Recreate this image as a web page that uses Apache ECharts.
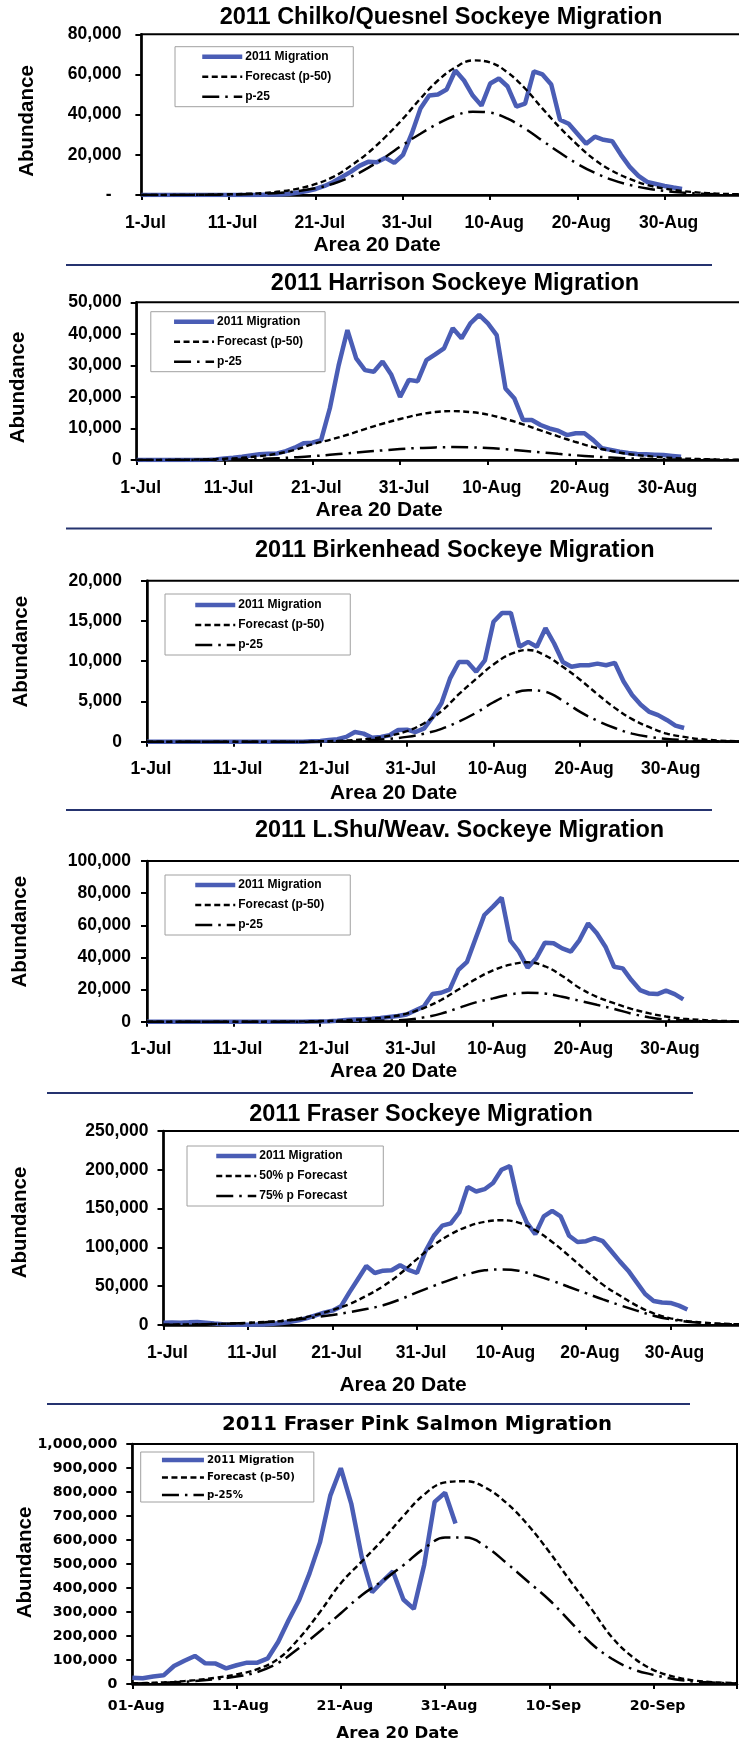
<!DOCTYPE html>
<html><head><meta charset="utf-8">
<script src="https://cdn.jsdelivr.net/npm/echarts/dist/echarts.min.js"></script>
<style>html,body{margin:0;padding:0;background:#fff}#c{width:739px;height:1744px}</style>
</head><body><div id="c"></div>
<script>
// ---------------- DATA (values in thousands) ----------------
const julTickLabels = ['1-Jul','11-Jul','21-Jul','31-Jul','10-Aug','20-Aug','30-Aug'];
const pinkTickLabels = ['01-Aug','11-Aug','21-Aug','31-Aug','10-Sep','20-Sep'];

// day offsets from 1-Jul (sockeye) / 01-Aug (pink)
const julMigrationDays = [0,1,2,3,4,5,6,7,8,9,10,11,12,13,14,15,16,17,18,19,20,21,22,23,24,25,26,27,28,29,30,31,32,33,34,35,36,37,38,39,40,41,42,43,44,45,46,47,48,49,50,51,52,53,54,55,56,57,58,59,60,61,62];
const julForecastDays = [0,2,4,6,8,10,12,14,16,18,20,22,24,26,28,30,32,34,36,38,40,42,44,46,48,50,52,54,56,58,60,62,64,66,68,70];
const pinkMigrationDays = [0,1,2,3,4,5,6,7,8,9,10,11,12,13,14,15,16,17,18,19,20,21,22,23,24,25,26,27,28,29,30,31];
const pinkForecastDays = [0,2,4,6,8,10,12,14,16,18,20,22,24,26,28,30,32,34,36,38,40,42,44,46,48,50,52,54,56,58];

const chilkoMigrationK = [0,0,0,0,0,0,0,0,0,0, 0,0,0,0,0.1,0.2,0.3,0.6,1.2,2, 3,4.5,6.5,9,11.5,14.5,16.5,16.3,18.5,16, 20,30.5,43,49.5,50,52.5,62,57,49.5,44.5, 55.5,58,54,44,45.5,61.5,60,55,37.5,35.5, 30.5,25.5,29,27.5,26.8,20,14,9.5,6.5,5.5, 4.5,3.7,3];
const chilkoP50K = [0,0,0.05,0.1,0.2,0.35,0.6,1.0,1.8,3.2, 5.5,9,14.5,21,29,38,48,57,63.5,67, 66,61,53,43,33.5,25,17.5,12,8,5, 3.2,2,1.2,0.7,0.4,0.2];
const chilkoP25K = [0,0,0.03,0.06,0.12,0.22,0.4,0.65,1.1,2, 3.4,5.6,9,13.5,19,25,30.5,35.5,39.5,41.5, 41,38,33,27,21,15.5,11,7.5,5,3.2, 2,1.2,0.7,0.4,0.25,0.15];

const harrisonMigrationK = [0,0,0,0,0,0,0,0,0,0.2, 0.5,0.7,1.0,1.4,1.8,2.0,2.1,2.8,3.9,5.3, 5.5,6.3,16.4,30,41.2,32.2,28.5,28,31.2,27, 20,25.4,25,31.7,33.5,35.4,41.8,38.6,43.3,46, 43.3,39.6,22.7,19.6,12.7,12.7,11.1,10,9.3,7.9, 8.5,8.5,6.3,3.7,3.2,2.6,2.2,1.9,1.8,1.7, 1.6,1.3,1.0];
const harrisonP50K = [0,0.02,0.05,0.1,0.2,0.4,0.7,1.2,2.0,3.2, 5.0,6.4,8.0,9.8,11.5,13.0,14.3,15.2,15.5,15.2, 14.4,13,11.3,9.4,7.5,5.7,4.1,2.9,1.9,1.3, 0.8,0.5,0.3,0.15,0.08,0.04];
const harrisonP25K = [0,0,0.01,0.03,0.06,0.12,0.2,0.35,0.55,0.85, 1.2,1.65,2.1,2.6,3.05,3.45,3.8,4.0,4.1,4.0, 3.8,3.4,2.95,2.45,1.95,1.5,1.1,0.78,0.52,0.34, 0.22,0.13,0.08,0.04,0.02,0.01];

const birkenheadMigrationK = [0,0,0,0,0,0,0,0,0,0, 0,0,0,0,0,0,0,0,0,0.05, 0.1,0.2,0.3,0.6,1.2,1.0,0.5,0.6,0.8,1.45, 1.5,1.2,1.65,3.1,4.8,7.9,9.9,9.9,8.7,10.1, 14.9,16,16,11.8,12.4,11.8,14.1,12.2,9.9,9.3, 9.5,9.5,9.7,9.5,9.8,7.5,5.8,4.6,3.7,3.3, 2.7,2.0,1.7];
const birkenheadP50K = [0,0,0,0,0,0,0,0,0,0, 0.05,0.1,0.2,0.4,0.75,1.3,2.3,3.8,5.9,7.8, 9.6,10.9,11.4,10.7,9.3,7.7,5.9,4.2,2.8,1.8, 1.0,0.6,0.3,0.15,0.07,0.03];
const birkenheadP25K = [0,0,0,0,0,0,0,0,0,0, 0.02,0.05,0.1,0.2,0.35,0.6,1.0,1.6,2.5,3.6, 4.9,5.9,6.4,6.2,5.1,3.7,2.6,1.7,1.0,0.6, 0.35,0.2,0.1,0.05,0.02,0.01];

const lshuMigrationK = [0,0,0,0,0,0,0,0,0,0, 0,0,0,0,0,0,0,0,0,0.1, 0.2,0.3,0.6,1.0,1.3,1.6,1.9,2.3,2.9,3.5, 4.5,7,9.5,17.2,18,20.1,32.2,37.3,51.9,66.4, 71.6,77.2,50.4,43.6,33.6,39.4,49.2,48.8,45.6,43.6, 50.8,61.2,55,46.7,34.2,33.2,25.9,19.7,17.6,17.2, 19.3,17.2,13.9];
const lshuP50K = [0,0,0,0,0,0,0,0,0.1,0.2, 0.4,0.7,1.2,1.9,3.0,5.0,8.5,13.5,20,26.5, 32,35.5,37,34.5,28.5,21,15.5,11.5,8,5.3, 3.2,1.9,1.1,0.6,0.3,0.15];
const lshuP25K = [0,0,0,0,0,0,0,0,0,0, 0.05,0.1,0.2,0.4,0.7,1.2,2.7,5,8.5,12, 14.5,17,18,17.5,15.5,13,10.5,8,5,2.8, 1.3,0.7,0.35,0.2,0.1,0.05];

const fraserMigrationK = [3,3.2,3,3.4,3.9,3,1.8,0.9,0.4,0.2, 0.3,0.5,0.8,1.5,2.5,4,6,9,12.5,16, 18.5,24,42,59,76,67,70,70.5,77,71, 67,95,115,128,131,145,178,172,175,183, 200,205,157,132,117,140,147,140,115,107, 108,112,108,95,82,70,55,40,31,29, 28.5,25,20];
const fraserP50K = [0.4,0.6,0.9,1.3,1.9,2.8,3.9,5.2,8.5,13, 19.3,27,37.5,50,66,85,103,117,127,133, 135,132,122,107,89,70,52,38,25,15, 8.6,5,3,1.7,1,0.5];
const fraserP75K = [0.3,0.5,0.8,1.2,1.8,2.6,3.7,5.2,7.3,10, 13,16.5,20.5,25.5,33,42,50.5,58.5,65.5,70.5, 71.5,70,64,57,49,41,33,25.5,18.5,12, 7.3,4.3,2.5,1.4,0.8,0.4];

const pinkMigrationK = [26,24,31,36,75,97,117,86,85,65, 78,89,89,107,176,267,350,461,590,786, 899,752,531,382,428,469,352,313,497,759, 797,669];
const pinkP50K = [3,5,9,16,26,40,62,105,190,300, 420,510,600,700,790,840,845,815,750,660, 550,430,315,195,112,58,30,14,7,3];
const pinkP25K = [2,4,7,12,20,31,50,88,150,220, 295,370,430,495,565,610,610,570,500,425, 350,260,170,105,62,38,20,10,5,2];

// ---------------- LAYOUT ----------------
const FONT = '"Liberation Sans", Arial, Helvetica, sans-serif';
const WIDE = '"DejaVu Sans", Verdana, sans-serif';
const BLUE = '#4a5db5';

const namesStd = ['2011 Migration','Forecast (p-50)','p-25'];
const panels = [
  {title:'2011 Chilko/Quesnel Sockeye Migration', tx:441, ty:17.5, left:141.4, top:34.3, width:610.4, height:160.7, xmax:70, ymax:80000, yint:20000,
   ticks:julTickLabels, md:julMigrationDays, fd:julForecastDays, mig:chilkoMigrationK, a:chilkoP50K, b:chilkoP25K, names:namesStd, dashZero:true,
   ym:20, xm:19, ab:[27,121], dt:[377,245], lg:{left:175, top:46.7, pad:[4,22,4,25]}},
  {title:'2011 Harrison Sockeye Migration', tx:455, ty:283.3, left:136.7, top:302.3, width:614.6, height:157.7, xmax:70, ymax:50000, yint:10000,
   ticks:julTickLabels, md:julMigrationDays, fd:julForecastDays, mig:harrisonMigrationK, a:harrisonP50K, b:harrisonP25K, names:namesStd,
   ym:15, xm:19, ab:[18,387.5], dt:[379,510], lg:{left:150.8, top:311.7, pad:[4,22,4,21]}},
  {title:'2011 Birkenhead Sockeye Migration', tx:454.8, ty:550.7, left:147, top:580.7, width:606.4, height:161, xmax:70, ymax:20000, yint:5000,
   ticks:julTickLabels, md:julMigrationDays, fd:julForecastDays, mig:birkenheadMigrationK, a:birkenheadP50K, b:birkenheadP25K, names:namesStd,
   ym:25, xm:18.5, ab:[21,651.7], dt:[393.5,793], lg:{left:165, top:594, pad:[5,26,4,28]}},
  {title:'2011 L.Shu/Weav. Sockeye Migration', tx:459.5, ty:830.7, left:147, top:861, width:605.5, height:160.7, xmax:70, ymax:100000, yint:20000,
   ticks:julTickLabels, md:julMigrationDays, fd:julForecastDays, mig:lshuMigrationK, a:lshuP50K, b:lshuP25K, names:namesStd,
   ym:16, xm:18.5, ab:[20,931.7], dt:[393.5,1071.7], lg:{left:165, top:875, pad:[4,26,4,28]}},
  {title:'2011 Fraser Sockeye Migration', tx:421, ty:1115, left:163.5, top:1131, width:591.5, height:194, xmax:70, ymax:250000, yint:50000,
   ticks:julTickLabels, md:julMigrationDays, fd:julForecastDays, mig:fraserMigrationK, a:fraserP50K, b:fraserP75K, names:['2011 Migration','50% p Forecast','75% p Forecast'],
   ym:15, xm:19, ab:[20,1222.5], dt:[403,1385], lg:{left:187, top:1146, pad:[4,36,4,27]}},
  {title:'2011 Fraser Pink Salmon Migration', tx:417, ty:1425, left:132.3, top:1444, width:604.7, height:240, xmax:58, ymax:1000000, yint:100000,
   ticks:pinkTickLabels, md:pinkMigrationDays, fd:pinkForecastDays, mig:pinkMigrationK, a:pinkP50K, b:pinkP25K, names:['2011 Migration','Forecast (p-50)','p-25%'],
   ym:15, xm:15, ab:[25,1562.5], dt:[397.5,1734], lg:{left:140.7, top:1452, pad:[3,19,2,19]}, wide:true}
];

const separators = [[66,265,712],[66,528.5,712],[66,810,712],[47,1093,693],[47,1404,690]];

function commas(v){ return String(v).replace(/\B(?=(\d{3})+(?!\d))/g, ','); }
function pairs(days, valsK){ return days.map((d,i)=>[d, valsK[i]*1000]); }

const option = {animation:false, backgroundColor:'#fff', grid:[], xAxis:[], yAxis:[], series:[], legend:[], graphic:[]};

panels.forEach((p,i)=>{
  const fam = p.wide ? WIDE : FONT;
  const tickFs = p.wide ? 14.2 : 17.5;
  option.grid.push({left:p.left, top:p.top, width:p.width, height:p.height, show:true, borderColor:'#000', borderWidth:2,
    backgroundColor:'rgba(0,0,0,0)', containLabel:false, outerBoundsMode:'none'});
  option.xAxis.push({gridIndex:i, type:'value', min:0, max:p.xmax, interval:10,
    axisLine:{show:true, onZero:false, lineStyle:{color:'#000', width:2.5}},
    axisTick:{show:true, length:5, lineStyle:{color:'#000', width:2}},
    splitLine:{show:false},
    axisLabel:{show:true, margin:p.xm, color:'#000', fontSize:tickFs, fontWeight:'bold', fontFamily:fam, hideOverlap:false,
      padding:[0,0,0,8],
      formatter:(v)=>{ const k=v/10; return (Number.isInteger(k) && p.ticks[k]!==undefined) ? p.ticks[k] : ''; }}
  });
  option.yAxis.push({gridIndex:i, type:'value', min:0, max:p.ymax, interval:p.yint,
    axisLine:{show:true, lineStyle:{color:'#000', width:2.5}},
    axisTick:{show:true, length:6, lineStyle:{color:'#000', width:2}},
    splitLine:{show:false},
    axisLabel:{show:true, margin:p.ym, color:'#000', fontSize:tickFs, fontWeight:'bold', fontFamily:fam, hideOverlap:false,
      formatter:(v)=> (v===0 && p.dashZero) ? '-  ' : commas(v)}
  });
  option.series.push({name:p.names[0], type:'line', xAxisIndex:i, yAxisIndex:i, data:pairs(p.md, p.mig),
    symbol:'none', showSymbol:false, lineStyle:{color:BLUE, width:4.5}, itemStyle:{color:BLUE}, z:2});
  option.series.push({name:p.names[1], type:'line', xAxisIndex:i, yAxisIndex:i, data:pairs(p.fd, p.a), smooth:0.4,
    symbol:'none', showSymbol:false, lineStyle:{color:'#000', width:2.4, type:[6,3.5]}, itemStyle:{color:'#000'}, z:3});
  option.series.push({name:p.names[2], type:'line', xAxisIndex:i, yAxisIndex:i, data:pairs(p.fd, p.b), smooth:0.4,
    symbol:'none', showSymbol:false, lineStyle:{color:'#000', width:2.5, type:[17,6,2.5,6]}, itemStyle:{color:'#000'}, z:3});
  option.legend.push({orient:'vertical', left:p.lg.left, top:p.lg.top, padding:p.lg.pad,
    itemWidth:p.wide?42:40, itemHeight:p.wide?12:14, itemGap:p.wide?7.5:8,
    borderColor:'#a0a0a0', borderWidth:1, backgroundColor:'#fff', selectedMode:false,
    data:p.names, lineStyle:{width:'inherit'}, itemStyle:{opacity:0, borderWidth:0},
    textStyle:{color:'#000', fontWeight:'bold', fontSize:p.wide?10.2:12, fontFamily:fam, padding:[0,0,0,-2]}});
  option.graphic.push({type:'text', x:p.tx, y:p.ty, z:10, style:{text:p.title, fill:'#000', fontWeight:'bold',
    fontSize:p.wide?19.7:23.5, fontFamily:fam, align:'center', verticalAlign:'middle', textAlign:'center', textVerticalAlign:'middle'}});
  option.graphic.push({type:'text', x:p.ab[0], y:p.ab[1], rotation:Math.PI/2, z:10, style:{text:'Abundance', fill:'#000', fontWeight:'bold',
    fontSize:20.5, fontFamily:FONT, align:'center', verticalAlign:'middle', textAlign:'center', textVerticalAlign:'middle'}});
  option.graphic.push({type:'text', x:p.dt[0], y:p.dt[1], z:10, style:{text:'Area 20 Date', fill:'#000', fontWeight:'bold',
    fontSize:p.wide?16.6:21, fontFamily:fam, align:'center', verticalAlign:'middle', textAlign:'center', textVerticalAlign:'middle'}});
});

separators.forEach(s=>{
  option.graphic.push({type:'line', z:10, shape:{x1:s[0], y1:s[1], x2:s[2], y2:s[1]}, style:{stroke:'#25336f', lineWidth:2.2}});
});

const chart = echarts.init(document.getElementById('c'), null, {renderer:'canvas', width:739, height:1744});
chart.setOption(option);
</script></body></html>
